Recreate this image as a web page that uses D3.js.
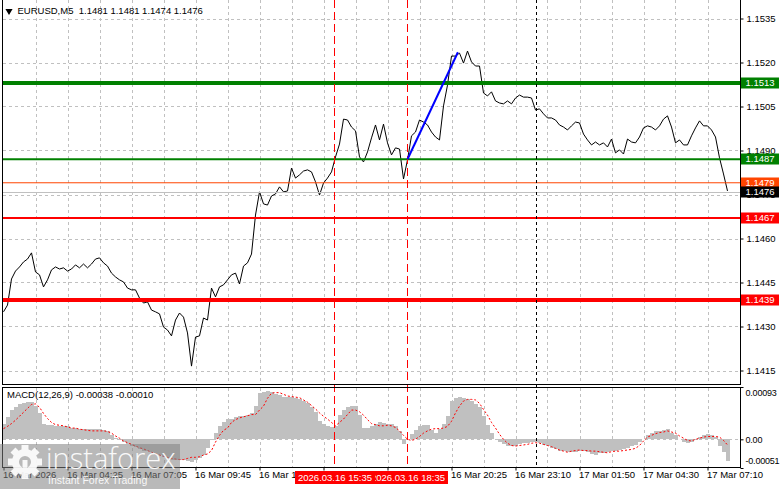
<!DOCTYPE html>
<html><head><meta charset="utf-8">
<script src="https://cdn.jsdelivr.net/npm/d3@7"></script>
<style>body{margin:0;background:#fff;}svg{display:block;}</style>
</head><body>
<svg id="c" width="781" height="489"></svg>
<script>
// ---------------- DATA ----------------
const symbolTitle = "EURUSD,M5";
const ohlc = [1.1481, 1.1481, 1.1474, 1.1476];
const priceTicks = [1.1535, 1.1520, 1.1505, 1.1490, 1.1475, 1.1460, 1.1445, 1.1430, 1.1415];
// closes, one sample every 2 bars (10 minutes)
const closes = [
 1.14350,1.14373,1.14462,1.14489,1.14503,1.14520,1.14530,1.14551,1.14486,1.14476,
 1.14435,1.14459,1.14493,1.14503,1.14496,1.14500,1.14489,1.14496,1.14510,1.14500,
 1.14513,1.14500,1.14513,1.14530,1.14534,1.14517,1.14506,1.14482,1.14469,1.14459,
 1.14452,1.14431,1.14425,1.14425,1.14397,1.14380,1.14384,1.14356,1.14350,1.14343,
 1.14298,1.14288,1.14268,1.14322,1.14346,1.14332,1.14278,1.14165,1.14264,1.14268,
 1.14329,1.14322,1.14431,1.14401,1.14435,1.14442,1.14459,1.14476,1.14482,1.14445,
 1.14506,1.14517,1.14547,1.14680,1.14759,1.14718,1.14714,1.14745,1.14752,1.14776,
 1.14759,1.14762,1.14840,1.14806,1.14817,1.14830,1.14834,1.14827,1.14793,1.14748,
 1.14789,1.14806,1.14827,1.14878,1.14922,1.15007,1.15004,1.14980,1.14967,1.14878,
 1.14861,1.14895,1.14943,1.14987,1.14936,1.14990,1.14926,1.14885,1.14909,1.14905,
 1.14803,1.14868,1.14950,1.14963,1.15004,1.14997,1.14987,1.14963,1.14946,1.14936,
 1.15052,1.15123,1.15222,1.15222,1.15232,1.15198,1.15239,1.15202,1.15188,1.15188,
 1.15096,1.15086,1.15100,1.15069,1.15062,1.15059,1.15069,1.15059,1.15079,1.15089,
 1.15082,1.15082,1.15079,1.15038,1.15042,1.15025,1.15011,1.15011,1.15004,1.14987,
 1.14980,1.14970,1.14984,1.14997,1.14994,1.14956,1.14936,1.14919,1.14929,1.14919,
 1.14926,1.14912,1.14939,1.14892,1.14902,1.14888,1.14939,1.14929,1.14926,1.14946,
 1.14977,1.14984,1.14980,1.14970,1.14984,1.15007,1.15018,1.14980,1.14926,1.14936,
 1.14919,1.14919,1.14950,1.14977,1.15001,1.14984,1.14984,1.14970,1.14946,1.14875,
 1.14820,1.14762
];
const macdHist = [
 27e-5,39e-5,52e-5,57e-5,62e-5,65e-5,66e-5,66e-5,60e-5,46e-5,
 28e-5,25e-5,25e-5,24e-5,24e-5,24e-5,23e-5,21e-5,20e-5,18e-5,
 18e-5,18e-5,18e-5,18e-5,18e-5,16e-5,14e-5,7e-5,2e-5,-1e-5,
 -5e-5,-9e-5,-12e-5,-14e-5,-18e-5,-20e-5,-21e-5,-23e-5,-27e-5,-28e-5,
 -32e-5,-34e-5,-36e-5,-36e-5,-36e-5,-37e-5,-39e-5,-41e-5,-37e-5,-34e-5,
 -27e-5,-16e-5,-2e-5,11e-5,23e-5,30e-5,36e-5,37e-5,39e-5,41e-5,
 41e-5,44e-5,47e-5,60e-5,82e-5,85e-5,86e-5,84e-5,81e-5,78e-5,
 76e-5,76e-5,75e-5,73e-5,71e-5,68e-5,64e-5,57e-5,48e-5,32e-5,
 27e-5,23e-5,22e-5,23e-5,43e-5,53e-5,57e-5,60e-5,60e-5,44e-5,
 21e-5,21e-5,23e-5,28e-5,30e-5,29e-5,28e-5,27e-5,23e-5,14e-5,
 -9e-5,0,9e-5,16e-5,23e-5,25e-5,25e-5,16e-5,12e-5,18e-5,
 28e-5,41e-5,68e-5,74e-5,75e-5,73e-5,71e-5,68e-5,63e-5,57e-5,
 41e-5,25e-5,12e-5,0,-5e-5,-9e-5,-11e-5,-12e-5,-12e-5,-9e-5,
 -7e-5,-6e-5,-5e-5,-5e-5,-6e-5,-10e-5,-12e-5,-15e-5,-18e-5,-20e-5,
 -21e-5,-22e-5,-23e-5,-22e-5,-21e-5,-21e-5,-23e-5,-26e-5,-27e-5,-25e-5,
 -24e-5,-22e-5,-21e-5,-20e-5,-19e-5,-18e-5,-16e-5,-12e-5,-10e-5,-4e-5,
 0,7e-5,12e-5,14e-5,15e-5,16e-5,18e-5,12e-5,7e-5,0,
 -4e-5,-7e-5,-5e-5,-2e-5,5e-5,8e-5,9e-5,7e-5,4e-5,-11e-5,
 -23e-5,-38e-5
];
const macdSignal = [
 19e-5,23e-5,28e-5,34e-5,41e-5,48e-5,55e-5,62e-5,63e-5,57e-5,
 46e-5,37e-5,30e-5,26e-5,25e-5,24e-5,22e-5,20e-5,20e-5,18e-5,
 17e-5,16e-5,15e-5,15e-5,15e-5,15e-5,14e-5,11e-5,6e-5,2e-5,
 -3e-5,-6e-5,-9e-5,-12e-5,-15e-5,-17e-5,-20e-5,-23e-5,-26e-5,-28e-5,
 -30e-5,-32e-5,-34e-5,-35e-5,-36e-5,-36e-5,-34e-5,-32e-5,-32e-5,-31e-5,
 -28e-5,-26e-5,-20e-5,-5e-5,7e-5,16e-5,20e-5,30e-5,35e-5,38e-5,
 40e-5,42e-5,44e-5,44e-5,52e-5,59e-5,73e-5,82e-5,83e-5,83e-5,
 80e-5,77e-5,76e-5,75e-5,74e-5,70e-5,66e-5,60e-5,54e-5,47e-5,
 41e-5,36e-5,30e-5,24e-5,30e-5,36e-5,44e-5,52e-5,52e-5,49e-5,
 43e-5,35e-5,28e-5,26e-5,24e-5,24e-5,25e-5,24e-5,21e-5,15e-5,
 7e-5,0,-2e-5,0,5e-5,11e-5,15e-5,18e-5,19e-5,19e-5,
 20e-5,23e-5,32e-5,47e-5,59e-5,68e-5,71e-5,71e-5,70e-5,64e-5,
 53e-5,43e-5,30e-5,20e-5,9e-5,0,-7e-5,-11e-5,-12e-5,-11e-5,
 -10e-5,-9e-5,-7e-5,-6e-5,-7e-5,-9e-5,-11e-5,-13e-5,-16e-5,-19e-5,
 -21e-5,-23e-5,-21e-5,-20e-5,-19e-5,-20e-5,-20e-5,-21e-5,-21e-5,-22e-5,
 -23e-5,-24e-5,-22e-5,-21e-5,-21e-5,-20e-5,-19e-5,-18e-5,-16e-5,-11e-5,
 -3e-5,4e-5,7e-5,10e-5,12e-5,13e-5,15e-5,13e-5,11e-5,6e-5,
 2e-5,-2e-5,-3e-5,0,2e-5,4e-5,5e-5,5e-5,5e-5,4e-5,
 -2e-5,-10e-5
];
const macdTicks = [0.00093, 0, -0.00051];
const macdTickLabels = ["0.00093", "0.00", "-0.00051"];
const macdTitle = "MACD(12,26,9) -0.00038 -0.00010";
const timeIdx = [0,16,32,48,64,80,96,112,128,144,160,176];
const timeLabels = ["16 Mar 2026","16 Mar 04:25","16 Mar 07:05","16 Mar 09:45","16 Mar 12:25","16 Mar 15:05",
  "16 Mar 17:45","16 Mar 20:25","16 Mar 23:10","17 Mar 01:50","17 Mar 04:30","17 Mar 07:10"];
const levelPrices = [1.1513, 1.1487, 1.1479, 1.1467, 1.1439];
const bidPrice = 1.1476;
const eventIdx = [83, 101];
const eventLabels = ["2026.03.16 15:35", "2026.03.16 18:35"];
const dayBreakIdx = [133];
const trendIdx = [101, 113.6];
const trendPrice = [1.1487, 1.15235];

// ---------------- STYLE / LAYOUT ----------------
const levelColor = ["#008000", "#008000", "#ff4500", "#ff0000", "#ff0000"];
const levelWidth = [4, 2, 1, 2, 4];
const FONT = "'Liberation Sans', Arial, sans-serif";
const FS = 9.5;
const L = 2.5, R = 740.5, mainBot = 384.5, mTop = 387.5, mBot = 467.5;
const GRID = "#c0c0c0";

const svg = d3.select("#c");
const x = d3.scaleLinear().domain([0, 181]).range([3.5, 727.5]);
const y = d3.scaleLinear().domain([1.1415, 1.1535]).range([370.5, 18.5]);
const ym = d3.scaleLinear().domain([-0.00051, 0.00093]).range([468, 387]);

// grids
const gridIdx = d3.range(8, 182, 8);
const grid = svg.append("g").attr("stroke", GRID).attr("stroke-dasharray", "3,3").attr("shape-rendering", "crispEdges");
grid.selectAll("line.vm").data(gridIdx).join("line").attr("class","vm")
  .attr("x1", d => Math.round(x(d)) + 0.5).attr("x2", d => Math.round(x(d)) + 0.5)
  .attr("y1", 0).attr("y2", mainBot);
grid.selectAll("line.vs").data(gridIdx).join("line").attr("class","vs")
  .attr("x1", d => Math.round(x(d)) + 0.5).attr("x2", d => Math.round(x(d)) + 0.5)
  .attr("y1", mTop).attr("y2", mBot);
grid.selectAll("line.h").data(priceTicks).join("line").attr("class","h")
  .attr("x1", L).attr("x2", R).attr("y1", d => Math.round(y(d)) + 0.5).attr("y2", d => Math.round(y(d)) + 0.5);
grid.append("line").attr("x1", L).attr("x2", R)
  .attr("y1", Math.round(ym(0)) + 0.5).attr("y2", Math.round(ym(0)) + 0.5);

// MACD histogram
svg.append("g").attr("fill", "#c0c0c0").attr("shape-rendering", "crispEdges")
  .selectAll("rect").data(macdHist).join("rect")
  .attr("x", (d, i) => x(i) - 2).attr("width", 4)
  .attr("y", d => Math.min(ym(d), ym(0))).attr("height", d => Math.abs(ym(d) - ym(0)));

// MACD signal
svg.append("path").datum(macdSignal)
  .attr("d", d3.line().x((d, i) => x(i)).y(d => ym(d)))
  .attr("fill", "none").attr("stroke", "#ff0000").attr("stroke-width", 1).attr("stroke-dasharray", "2,2");

// price line
svg.append("path").datum(closes)
  .attr("d", d3.line().x((d, i) => x(i)).y(d => y(d)))
  .attr("fill", "none").attr("stroke", "#000").attr("stroke-width", 1);

// bid line
svg.append("line").attr("x1", L).attr("x2", R)
  .attr("y1", Math.round(y(bidPrice)) + 0.5).attr("y2", Math.round(y(bidPrice)) + 0.5)
  .attr("stroke", "#c0c0c0").attr("stroke-width", 1);

// levels
svg.append("g").selectAll("line").data(levelPrices).join("line")
  .attr("x1", L).attr("x2", R).attr("y1", d => y(d)).attr("y2", d => y(d))
  .attr("stroke", (d, i) => levelColor[i]).attr("stroke-width", (d, i) => levelWidth[i]);

// event vertical lines
svg.append("g").selectAll("line").data(eventIdx).join("line")
  .attr("x1", d => Math.round(x(d)) - 0.5).attr("x2", d => Math.round(x(d)) - 0.5)
  .attr("y1", 0).attr("y2", mBot)
  .attr("stroke", "#ff0000").attr("stroke-dasharray", "8,4");
svg.append("g").selectAll("line").data(dayBreakIdx).join("line")
  .attr("x1", d => Math.round(x(d)) + 0.5).attr("x2", d => Math.round(x(d)) + 0.5)
  .attr("y1", 0).attr("y2", mBot)
  .attr("stroke", "#000").attr("stroke-dasharray", "3,3");

// trend line
svg.append("line")
  .attr("x1", x(trendIdx[0])).attr("y1", y(trendPrice[0]))
  .attr("x2", x(trendIdx[1])).attr("y2", y(trendPrice[1]))
  .attr("stroke", "#0000ff").attr("stroke-width", 2);

// frames
const frame = svg.append("g").attr("stroke", "#000").attr("fill", "none").attr("shape-rendering", "crispEdges");
frame.append("path").attr("d", `M${L},0V${mainBot}H${R}V0`);
frame.append("path").attr("d", `M${L},${mBot}V${mTop}H${R}V${mBot}Z`);

// price axis
const pax = svg.append("g").attr("transform", `translate(${R},0)`)
  .call(d3.axisRight(y).tickValues(priceTicks).tickFormat(d3.format(".4f")).tickSize(3).tickPadding(3));
pax.select(".domain").remove();
pax.selectAll("text").attr("font-family", FONT).attr("font-size", FS).attr("fill", "#000");

// macd axis
const max = svg.append("g").attr("transform", `translate(${R},0)`)
  .call(d3.axisRight(ym).tickValues(macdTicks).tickFormat((d, i) => macdTickLabels[i]).tickSize(3).tickPadding(2));
max.select(".domain").remove();
max.selectAll("text").attr("font-family", FONT).attr("font-size", 9).attr("letter-spacing", -0.2).attr("fill", "#000")
  .attr("y", (d, i) => i === 0 ? 6 : (i === 2 ? -7 : 0));

// time axis
const tax = svg.append("g").attr("transform", `translate(0,${mBot})`)
  .call(d3.axisBottom(x).tickValues(timeIdx).tickFormat((d, i) => timeLabels[i]).tickSize(3).tickPadding(1));
tax.select(".domain").remove();
tax.selectAll("text").attr("font-family", FONT).attr("font-size", FS).attr("fill", "#000")
  .attr("text-anchor", "start").attr("x", -1);

// level price boxes
const boxPrices = levelPrices.concat([bidPrice]);
const boxColors = levelColor.concat(["#000"]);
const boxes = svg.append("g").selectAll("g").data(boxPrices).join("g")
  .attr("transform", d => `translate(${R},${Math.round(y(d))})`);
boxes.append("rect").attr("x", 0.5).attr("y", -5.5).attr("width", 38).attr("height", 11)
  .attr("fill", (d, i) => boxColors[i]);
boxes.append("text").attr("x", 5).attr("y", 0).attr("dy", "0.35em")
  .attr("font-family", FONT).attr("font-size", FS).attr("fill", "#fff")
  .text(d => d3.format(".4f")(d));

// event time boxes (second drawn first, first on top)
const ev = svg.append("g");
eventIdx.map((d, i) => i).reverse().forEach(i => {
  const gx = Math.round(x(eventIdx[i]));
  const gg = ev.append("g");
  const r = gg.append("rect").attr("fill", "#ff0000");
  const t = gg.append("text").attr("font-family", FONT).attr("font-size", FS).attr("fill", "#fff")
    .attr("text-anchor", "middle").attr("x", gx).attr("y", 477.5).attr("dy", "0.35em").text(eventLabels[i]);
  const w = t.node().getComputedTextLength() + 6;
  r.attr("x", gx - w / 2).attr("y", 471).attr("width", w).attr("height", 13);
});

// title
svg.append("path").attr("d", d3.symbol(d3.symbolTriangle, 22)())
  .attr("transform", "translate(9,11) rotate(180)").attr("fill", "#000");
svg.append("text").attr("x", 17.5).attr("y", 11).attr("dy", "0.35em")
  .attr("font-family", FONT).attr("font-size", FS).attr("fill", "#000")
  .attr("xml:space", "preserve")
  .text(symbolTitle + "  " + ohlc.map(d3.format(".4f")).join(" "));
svg.append("text").attr("x", 7).attr("y", 395).attr("dy", "0.35em")
  .attr("font-family", FONT).attr("font-size", FS).attr("fill", "#000").text(macdTitle);

// watermark
const wm = svg.append("g");
wm.append("rect").attr("x", 0).attr("y", 444).attr("width", 180).attr("height", 45)
  .attr("fill", "#7f7f7f").attr("opacity", 0.55);
const gear = wm.append("g").attr("transform", "translate(25,462)").attr("fill", "#fff").attr("opacity", 0.9);
d3.range(8).forEach(k => {
  gear.append("rect").attr("x", -3.5).attr("y", -17).attr("width", 7).attr("height", 8)
    .attr("transform", `rotate(${k * 45})`);
});
gear.append("path").attr("d", d3.arc().innerRadius(6).outerRadius(13).startAngle(0).endAngle(2 * Math.PI)());
gear.append("rect").attr("x", -2.5).attr("y", -2).attr("width", 5).attr("height", 17);
wm.append("text").attr("x", 46).attr("y", 469)
  .attr("font-family", "'Open Sans', 'Liberation Sans', sans-serif").attr("font-size", 29).attr("font-weight", 300)
  .attr("fill", "#fff").attr("opacity", 0.92).text("instaforex");
wm.append("text").attr("x", 48).attr("y", 484)
  .attr("font-family", FONT).attr("font-size", 10.5)
  .attr("fill", "#fff").attr("opacity", 0.9).text("Instant Forex Trading");
</script>
</body></html>
